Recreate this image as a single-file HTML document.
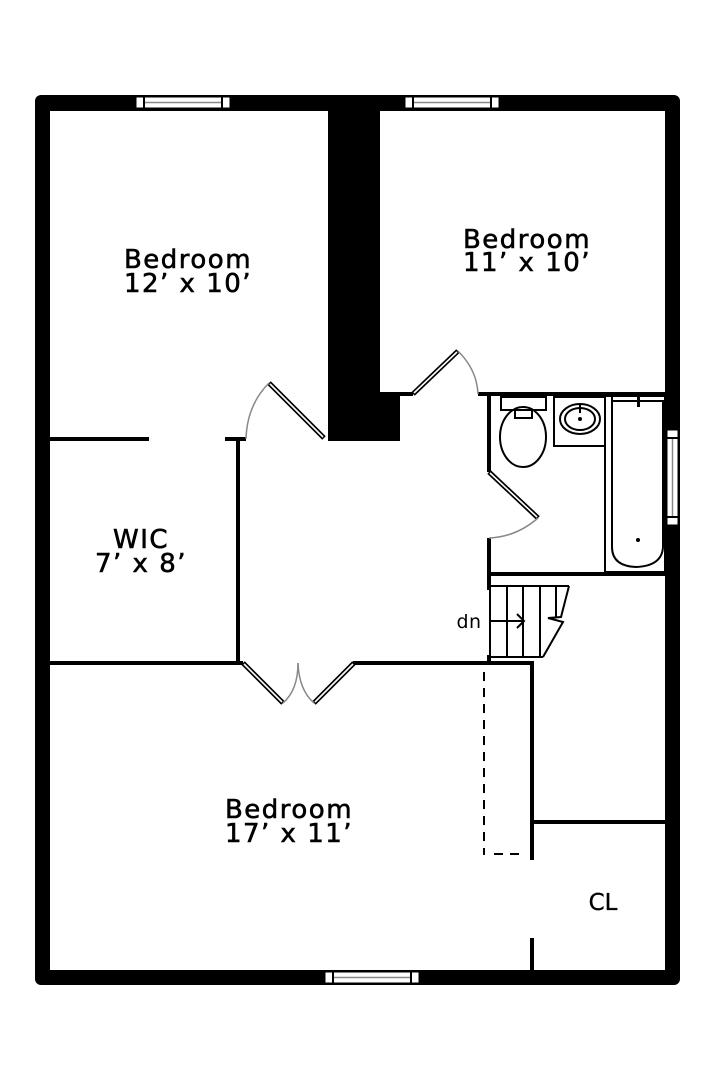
<!DOCTYPE html>
<html><head><meta charset="utf-8"><style>
html,body{margin:0;padding:0;background:#fff;}
svg{display:block;}
text{font-family:"DejaVu Sans","Liberation Sans",sans-serif;fill:#000;}
</style></head><body>
<svg width="720" height="1080" viewBox="0 0 720 1080" xmlns="http://www.w3.org/2000/svg">
<rect x="35" y="95" width="645" height="890" rx="6" fill="#000"/>
<rect x="50" y="111" width="615" height="859" fill="#fff"/>
<g fill="#fff" stroke="#000" stroke-width="1">
<rect x="136" y="97" width="94" height="11"/>
<rect x="405" y="97" width="94" height="11"/>
<rect x="325" y="972" width="94" height="11"/>
<rect x="667" y="430" width="11" height="95"/>
</g>
<g fill="#000">
<rect x="143" y="97" width="2" height="11"/><rect x="221" y="97" width="2" height="11"/>
<rect x="412" y="97" width="2" height="11"/><rect x="490" y="97" width="2" height="11"/>
<rect x="332" y="972" width="2" height="11"/><rect x="410" y="972" width="2" height="11"/>
<rect x="667" y="437" width="11" height="2"/><rect x="667" y="516" width="11" height="2"/>
</g>
<g stroke="#888" stroke-width="1.5">
<line x1="145" y1="102.5" x2="221" y2="102.5"/>
<line x1="414" y1="102.5" x2="490" y2="102.5"/>
<line x1="334" y1="977.5" x2="410" y2="977.5"/>
<line x1="672.5" y1="439" x2="672.5" y2="516"/>
</g>
<rect x="328" y="111" width="52" height="330" fill="#000"/>
<rect x="378" y="392" width="22" height="49" fill="#000"/>
<g fill="#000">
<rect x="380" y="392" width="33" height="4"/>
<rect x="478" y="392" width="187" height="4"/>
<rect x="50" y="437" width="99" height="4"/>
<rect x="225" y="437" width="21" height="4"/>
<rect x="236" y="437" width="4" height="226"/>
<rect x="487" y="396" width="4" height="76"/>
<rect x="487" y="538" width="4" height="52"/>
<rect x="487" y="572" width="178" height="4"/>
<rect x="50" y="661" width="193" height="4"/>
<rect x="353" y="661" width="181" height="4"/>
<rect x="487" y="655" width="4" height="8"/>
<rect x="530" y="661" width="4" height="199"/>
<rect x="534" y="820" width="131" height="4"/>
<rect x="530" y="938" width="4" height="32"/>
</g>
<g stroke="#000" stroke-width="5" stroke-linecap="butt">
<line x1="269" y1="383" x2="324" y2="438"/>
<line x1="413" y1="394" x2="458" y2="351"/>
<line x1="489" y1="472" x2="538" y2="518"/>
<line x1="243" y1="663" x2="283" y2="703"/>
<line x1="354" y1="663" x2="314" y2="703"/>
</g>
<g stroke="#fff" stroke-width="1.6">
<line x1="270" y1="384" x2="323" y2="437"/>
<line x1="414" y1="393" x2="457" y2="352"/>
<line x1="490" y1="473" x2="537" y2="517"/>
<line x1="244" y1="664" x2="282" y2="702"/>
<line x1="353" y1="664" x2="315" y2="702"/>
</g>
<g fill="none" stroke="#888" stroke-width="1.5">
<path d="M269,383 Q247,405 246,439"/>
<path d="M458,351 Q477,370 478,394"/>
<path d="M538,518 Q516,537 489,538"/>
<path d="M283,703 Q298,690 298,663"/>
<path d="M314,703 Q299,690 298,663"/>
</g>
<g stroke="#000" stroke-width="2" stroke-dasharray="9,7" fill="none">
<line x1="484" y1="672" x2="484" y2="855"/>
<line x1="494" y1="854" x2="526" y2="854"/>
</g>
<g fill="none" stroke="#000" stroke-width="2">
<rect x="501" y="397" width="45" height="13"/>
<rect x="515" y="410" width="17" height="8"/>
<ellipse cx="523" cy="437" rx="23" ry="30"/>
<rect x="554" y="397" width="51" height="49"/>
<ellipse cx="580" cy="419" rx="20" ry="15"/>
<ellipse cx="580" cy="419" rx="15" ry="11"/>
<rect x="605" y="396" width="60" height="176"/>
<path d="M612,396 V547 Q612,566 636,567 Q662,566 663,547 V401 H612"/>
</g>
<circle cx="580" cy="419" r="2" fill="#000"/>
<circle cx="638" cy="540" r="2" fill="#000"/>
<rect x="579" y="404" width="2" height="9" fill="#000"/>
<rect x="637" y="397" width="3" height="10" fill="#000"/>
<g fill="none" stroke="#000" stroke-width="2">
<line x1="490" y1="586" x2="569" y2="586"/>
<line x1="490" y1="586" x2="490" y2="657"/>
<line x1="490" y1="657" x2="543" y2="657"/>
<line x1="507" y1="586" x2="507" y2="657"/>
<line x1="523" y1="586" x2="523" y2="657"/>
<line x1="540" y1="586" x2="540" y2="657"/>
<line x1="556" y1="586" x2="556" y2="617"/>
<path d="M569,586 L561,617 L548,618 L563,622 L543,657"/>
<line x1="490" y1="621" x2="524" y2="621"/>
<path d="M517,614 L524,621 L517,628"/>
</g>
<g text-anchor="middle" font-size="26" letter-spacing="1.5" stroke="#000" stroke-width="0.6">
<text x="188" y="268">Bedroom</text>
<text x="188" y="292">12’ x 10’</text>
<text x="527" y="248">Bedroom</text>
<text x="527" y="271">11’ x 10’</text>
<text x="141" y="548">WIC</text>
<text x="141" y="572">7’ x 8’</text>
<text x="289" y="818">Bedroom</text>
<text x="289" y="842">17’ x 11’</text>
<text x="603" y="910" font-size="23" letter-spacing="0" stroke-width="0.3" font-family="Liberation Sans, sans-serif">CL</text>
<text x="469" y="628" font-size="19" letter-spacing="0.5" stroke-width="0">dn</text>
</g>
</svg>
</body></html>
